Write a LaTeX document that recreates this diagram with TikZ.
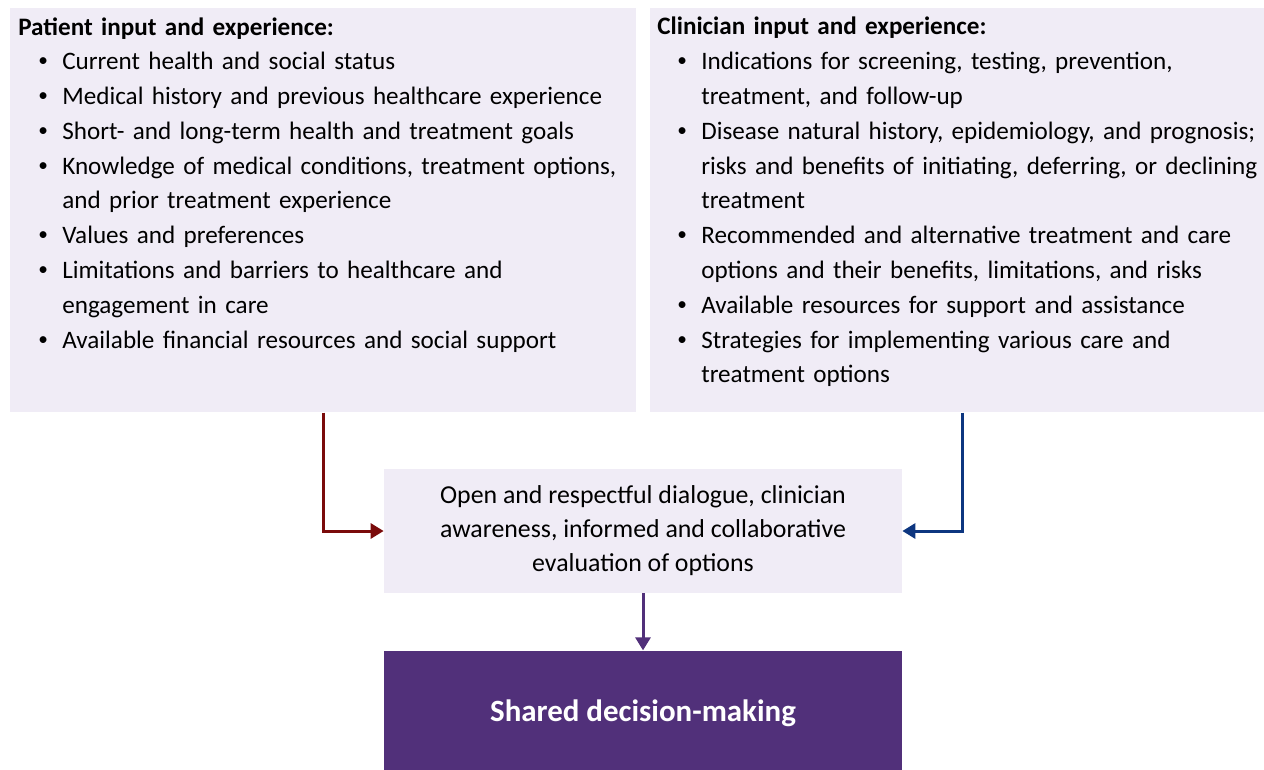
\documentclass[tikz,border=0pt]{standalone}
\usepackage{fontspec}
\setmainfont{Carlito}
\usepackage{tikz}
\usetikzlibrary{positioning,arrows.meta}

\definecolor{panelfill}{HTML}{F0ECF6}
\definecolor{sdmpurple}{HTML}{51307A}
\definecolor{patred}{HTML}{7A0A0A}
\definecolor{clinblue}{HTML}{0D3680}

\newcommand{\bul}[1]{\par\hangindent=0.88cm\hangafter=1\hspace*{0.4cm}\makebox[0.48cm][l]{\raisebox{0.12em}{\fontsize{11}{11}\selectfont\textbullet}}#1}

\begin{document}
\begin{tikzpicture}[
    node distance=1.14cm,
    panel/.style={rectangle,fill=panelfill,inner sep=0pt},
    panetext/.style={anchor=north west,inner sep=0pt,font=\fontsize{14.3}{19.8}\selectfont},
    link/.style={-{Triangle[length=0.26cm,width=0.3cm]},line width=1.7pt}
]
\useasboundingbox (0,0) rectangle (25.28,-15.38);

\node[panel,anchor=north west,minimum width=12.52cm,minimum height=8.08cm] (patient) at (0.2,-0.16) {};
\node[panel,anchor=north west,minimum width=12.28cm,minimum height=8.08cm] (clinician) at (13.0,-0.16) {};

\node[panetext,text width=12.8cm] (patienttxt) at ([xshift=0.16cm,yshift=-0.18cm]patient.north west) {%
\setlength{\parindent}{0pt}\rightskip=0pt plus 1fil\textbf{Patient input and experience:}
\bul{Current health and social status}
\bul{Medical history and previous healthcare experience}
\bul{Short- and long-term health and treatment goals}
\bul{Knowledge of medical conditions, treatment options,\newline and prior treatment experience}
\bul{Values and preferences}
\bul{Limitations and barriers to healthcare and\newline engagement in care}
\bul{Available financial resources and social support}\par};

\node[panetext,text width=13cm] (clinicantxt) at ([xshift=0.14cm,yshift=-0.18cm]clinician.north west) {%
\setlength{\parindent}{0pt}\rightskip=0pt plus 1fil\textbf{Clinician input and experience:}
\bul{Indications for screening, testing, prevention,\newline treatment, and follow-up}
\bul{Disease natural history, epidemiology, and prognosis;\newline risks and benefits of initiating, deferring, or declining\newline treatment}
\bul{Recommended and alternative treatment and care\newline options and their benefits, limitations, and risks}
\bul{Available resources for support and assistance}
\bul{Strategies for implementing various care and\newline treatment options}\par};

\node[panel,minimum width=10.36cm,minimum height=2.48cm,align=center,font=\fontsize{14.7}{19.4}\selectfont] (dialogue) at (12.86,-10.62)
    {Open and respectful dialogue, clinician\\awareness, informed and collaborative\\evaluation of options};
\node[rectangle,fill=sdmpurple,inner sep=0pt,minimum width=10.36cm,minimum height=2.5cm,below=of dialogue,text=white,font=\fontsize{17.6}{22}\selectfont\bfseries] (shared) {Shared decision-making};

\draw[link,patred] (patient.south) |- (dialogue.west);
\draw[link,clinblue] ([xshift=0.1cm]clinician.south) |- (dialogue.east);
\draw[link,sdmpurple] (dialogue) -- (shared);

\end{tikzpicture}
\end{document}
